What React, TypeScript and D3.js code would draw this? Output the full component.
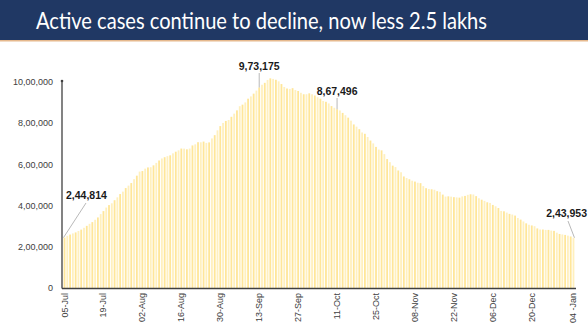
import React from "react";
import * as d3 from "d3";

const title = "Active cases continue to decline, now less 2.5 lakhs";

const julValues = [244814, 253287, 259557, 264944, 269789, 276682, 283407, 292258, 301609, 311565, 319840, 331146, 342473, 358692, 373379, 390459, 402529, 411133, 426167, 440135, 456071, 467882, 485114, 496988, 509447, 528242, 545318];
const augValues = [565103, 567730, 579357, 585297, 586298, 595501, 607384, 619088, 628747, 634945, 639929, 643948, 653622, 661595, 668220, 676900, 676514, 673166, 676900, 692028, 697330, 707668, 707267, 710771, 704348, 706851, 725991, 742023, 765302, 785996, 801282];
const sepValues = [810975, 815538, 831124, 846395, 862320, 882542, 890000, 901000, 919018, 930000, 943480, 958316, 973175, 986598, 995933, 1009976, 1017754, 1015000, 1010824, 1003299, 990061, 975861, 968377, 966382, 970116, 960969, 956402, 947576, 940441, 940705];
const octValues = [944996, 940441, 934427, 926000, 919023, 907883, 903932, 896000, 883185, 875000, 867496, 861853, 850000, 838729, 826876, 812390, 794000, 783311, 771000, 755000, 748538, 733000, 715812, 702000, 685000, 672000, 668154, 650000, 625857, 610803, 594000];
const novValues = [587000, 570458, 561908, 541405, 533787, 527962, 520773, 516632, 511000, 509000, 494657, 484547, 480719, 479216, 477000, 470000, 467000, 453401, 443794, 445000, 443486, 440962, 439747, 438667, 444746, 447000, 452344, 454940, 453956, 446000];
const decValues = [435603, 428644, 422943, 416082, 413000, 403248, 396729, 388183, 374000, 372293, 366000, 359819, 356546, 351555, 339820, 332002, 323000, 313831, 307000, 303639, 300000, 289240, 284000, 283849, 281919, 282000, 278690, 277301, 268581, 262272, 260000];
const janValues = [257656, 254254, 250183, 243953];

const activeCases = [...julValues, ...augValues, ...sepValues, ...octValues, ...novValues, ...decValues, ...janValues];

const xTickLabels = ["05-Jul", "19-Jul", "02-Aug", "16-Aug", "30-Aug", "13-Sep", "27-Sep", "11-Oct", "25-Oct", "08-Nov", "22-Nov", "06-Dec", "20-Dec", "04 -Jan"];
const xTickIndex = [0, 14, 28, 42, 56, 70, 84, 98, 112, 126, 140, 154, 168, 183];
const yTicks = [0, 200000, 400000, 600000, 800000, 1000000];

const annotIndex = [0, 70, 98, 183];
const annotLabels = ["2,44,814", "9,73,175", "8,67,496", "2,43,953"];

function indianFormat(v: number): string {
  const s = String(Math.round(v));
  if (s.length <= 3) return s;
  const last3 = s.slice(-3);
  let rest = s.slice(0, -3);
  const parts: string[] = [];
  while (rest.length > 2) {
    parts.unshift(rest.slice(-2));
    rest = rest.slice(0, -2);
  }
  if (rest.length) parts.unshift(rest);
  return parts.join(",") + "," + last3;
}

export default function App() {
  const W = 588, H = 335;
  const n = activeCases.length;
  const step = (573 - 65) / (n - 1);
  const x = d3.scaleBand<number>()
    .domain(d3.range(n))
    .range([65 - step / 2, 573 + step / 2])
    .paddingInner(0.35)
    .paddingOuter(0);
  const y = d3.scaleLinear().domain([0, 1000000]).range([288, 82]);
  const cx = (i: number) => (x(i) as number) + x.bandwidth() / 2;

  const font = "'Liberation Sans', Arial, sans-serif";

  const ann = annotIndex.map((idx, k) => {
    const bx = cx(idx);
    const by = y(activeCases[idx]);
    if (k === 0) return { tx: 66, ty: 199, anchor: "start", x1: bx - 1, y1: by, x2: 86, y2: 203 };
    if (k === 1) return { tx: bx, ty: 70, anchor: "middle", x1: bx, y1: by, x2: bx, y2: 73 };
    if (k === 2) return { tx: bx, ty: 95, anchor: "middle", x1: bx, y1: by, x2: bx, y2: 98 };
    return { tx: 587, ty: 217, anchor: "end", x1: bx + 1, y1: by, x2: 568, y2: 221 };
  });

  return (
    <svg width={W} height={H} style={{ position: "absolute", left: 0, top: 0, background: "#fff" }}>
      <rect x={0} y={0} width={W} height={40} fill="#203864" />
      <rect x={0} y={40} width={W} height={1.5} fill="#E6B98E" />
      <text x={36} y={29} fill="#fff" fontFamily="Lato, 'Open Sans', sans-serif" fontSize={23}
        textLength={451} lengthAdjust="spacingAndGlyphs">{title}</text>

      <g>
        {activeCases.map((v, i) => (
          <rect key={i} x={x(i)} y={y(v)} width={x.bandwidth()} height={288 - y(v)}
            fill={i % 2 === 0 ? "#FFE699" : "#FFF0BE"} />
        ))}
      </g>

      <line x1={62} y1={81} x2={62} y2={288.5} stroke="#404040" strokeWidth={1.3} />
      <circle cx={62} cy={81} r={1.3} fill="#404040" />
      <line x1={62} y1={288.5} x2={576} y2={288.5} stroke="#404040" strokeWidth={1.6} />

      {yTicks.map((t) => (
        <text key={t} x={53} y={y(t)} dy="0.35em" textAnchor="end" fontFamily={font} fontSize={9} fill="#404040">
          {indianFormat(t)}
        </text>
      ))}

      {xTickIndex.map((idx, k) => (
        <text key={k} transform={`translate(${cx(idx) + 3},${293}) rotate(-90)`} textAnchor="end"
          fontFamily={font} fontSize={9} fill="#404040">
          {xTickLabels[k]}
        </text>
      ))}

      {ann.map((a, k) => (
        <g key={k}>
          <line x1={a.x1} y1={a.y1} x2={a.x2} y2={a.y2} stroke="#A6A6A6" strokeWidth={0.8} />
          <text x={a.tx} y={a.ty} textAnchor={a.anchor as any} fontFamily={font} fontWeight="bold"
            fontSize={10.5} fill="#1a1a1a">{annotLabels[k]}</text>
        </g>
      ))}
    </svg>
  );
}
